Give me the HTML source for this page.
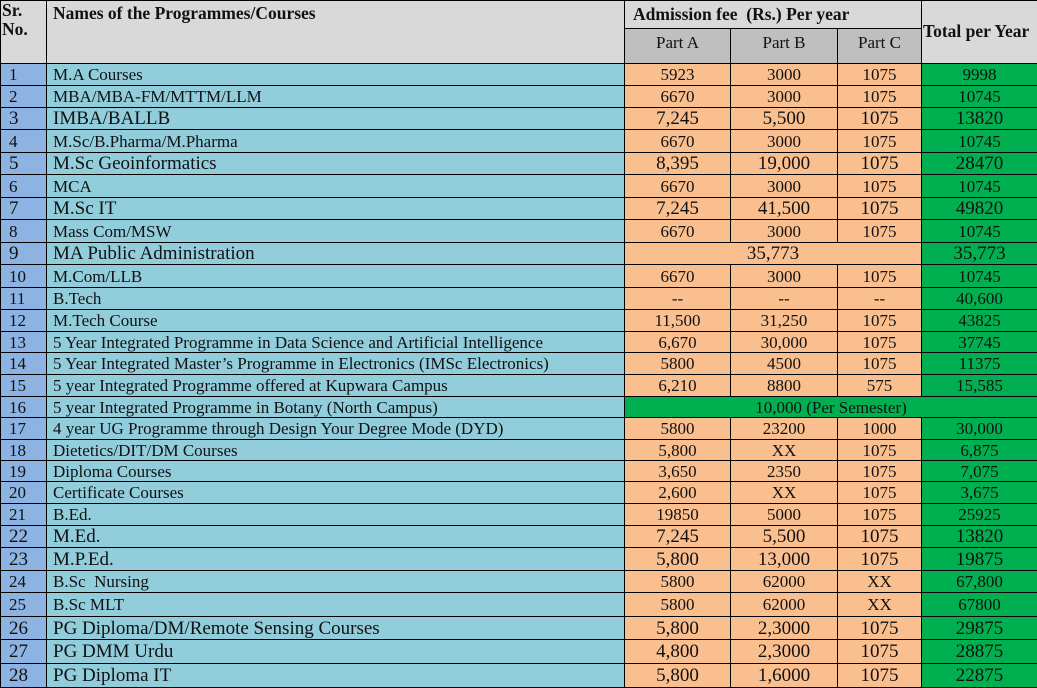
<!DOCTYPE html>
<html><head><meta charset="utf-8"><style>
html,body{margin:0;padding:0;background:#fff;}
body{width:1037px;height:686px;overflow:hidden;font-family:"Liberation Serif",serif;color:#111;}
table{border-collapse:collapse;table-layout:fixed;width:1037px;position:absolute;left:0;top:0;}
td{border:1px solid #000;padding:0;font-size:17px;line-height:1;white-space:nowrap;overflow:hidden;}
td.s{background:#8db3e2;padding-left:8px;}
td.n{background:#92cddc;padding-left:6px;}
td.p{background:#fabf8f;text-align:center;}
td.t{background:#00b050;text-align:center;}
tr.b td{font-size:19px;}
.h td{background:#d9d9d9;font-weight:bold;vertical-align:top;font-size:17.5px;}
.h td.ph{background:#bfbfbf;font-weight:normal;text-align:center;vertical-align:middle;font-size:17px;padding-bottom:8px;}
</style></head><body>
<table>
<colgroup><col style="width:46px"><col style="width:578px"><col style="width:106px"><col style="width:107px"><col style="width:84px"><col style="width:116px"></colgroup>
<tr class="h" style="height:28px"><td rowspan="2" style="padding-left:1px;line-height:19px">Sr.<br>No.</td><td rowspan="2" style="padding-left:6px;padding-top:4px">Names of the Programmes/Courses</td><td colspan="3" style="padding-left:8px;padding-top:5px">Admission fee&nbsp; (Rs.) Per year</td><td rowspan="2" style="vertical-align:middle;padding-left:1px">Total per Year</td></tr>
<tr class="h" style="height:35px"><td class="ph">Part A</td><td class="ph">Part B</td><td class="ph">Part C</td></tr>
<tr style="height:22px"><td class="s">1</td><td class="n">M.A Courses</td><td class="p">5923</td><td class="p">3000</td><td class="p">1075</td><td class="t">9998</td></tr>
<tr style="height:22px"><td class="s">2</td><td class="n">MBA/MBA-FM/MTTM/LLM</td><td class="p">6670</td><td class="p">3000</td><td class="p">1075</td><td class="t">10745</td></tr>
<tr class="b" style="height:22px"><td class="s">3</td><td class="n">IMBA/BALLB</td><td class="p">7,245</td><td class="p">5,500</td><td class="p">1075</td><td class="t">13820</td></tr>
<tr style="height:23px"><td class="s">4</td><td class="n">M.Sc/B.Pharma/M.Pharma</td><td class="p">6670</td><td class="p">3000</td><td class="p">1075</td><td class="t">10745</td></tr>
<tr class="b" style="height:22px"><td class="s">5</td><td class="n">M.Sc Geoinformatics</td><td class="p">8,395</td><td class="p">19,000</td><td class="p">1075</td><td class="t">28470</td></tr>
<tr style="height:23px"><td class="s">6</td><td class="n">MCA</td><td class="p">6670</td><td class="p">3000</td><td class="p">1075</td><td class="t">10745</td></tr>
<tr class="b" style="height:22px"><td class="s">7</td><td class="n">M.Sc IT</td><td class="p">7,245</td><td class="p">41,500</td><td class="p">1075</td><td class="t">49820</td></tr>
<tr style="height:23px"><td class="s">8</td><td class="n">Mass Com/MSW</td><td class="p">6670</td><td class="p">3000</td><td class="p">1075</td><td class="t">10745</td></tr>
<tr class="b" style="height:22px"><td class="s">9</td><td class="n">MA Public Administration</td><td class="p" colspan="3">35,773</td><td class="t">35,773</td></tr>
<tr style="height:23px"><td class="s">10</td><td class="n">M.Com/LLB</td><td class="p">6670</td><td class="p">3000</td><td class="p">1075</td><td class="t">10745</td></tr>
<tr style="height:22px"><td class="s">11</td><td class="n">B.Tech</td><td class="p">--</td><td class="p">--</td><td class="p">--</td><td class="t">40,600</td></tr>
<tr style="height:22px"><td class="s">12</td><td class="n">M.Tech Course</td><td class="p">11,500</td><td class="p">31,250</td><td class="p">1075</td><td class="t">43825</td></tr>
<tr style="height:21px"><td class="s">13</td><td class="n">5 Year Integrated Programme in Data Science and Artificial Intelligence</td><td class="p">6,670</td><td class="p">30,000</td><td class="p">1075</td><td class="t">37745</td></tr>
<tr style="height:22px"><td class="s">14</td><td class="n">5 Year Integrated Master’s Programme in Electronics (IMSc Electronics)</td><td class="p">5800</td><td class="p">4500</td><td class="p">1075</td><td class="t">11375</td></tr>
<tr style="height:22px"><td class="s">15</td><td class="n">5 year Integrated Programme offered at Kupwara Campus</td><td class="p">6,210</td><td class="p">8800</td><td class="p">575</td><td class="t">15,585</td></tr>
<tr style="height:21px"><td class="s">16</td><td class="n">5 year Integrated Programme in Botany (North Campus)</td><td class="t" colspan="4">10,000 (Per Semester)</td></tr>
<tr style="height:22px"><td class="s">17</td><td class="n">4 year UG Programme through Design Your Degree Mode (DYD)</td><td class="p">5800</td><td class="p">23200</td><td class="p">1000</td><td class="t">30,000</td></tr>
<tr style="height:21px"><td class="s">18</td><td class="n">Dietetics/DIT/DM Courses</td><td class="p">5,800</td><td class="p">XX</td><td class="p">1075</td><td class="t">6,875</td></tr>
<tr style="height:21px"><td class="s">19</td><td class="n">Diploma Courses</td><td class="p">3,650</td><td class="p">2350</td><td class="p">1075</td><td class="t">7,075</td></tr>
<tr style="height:22px"><td class="s">20</td><td class="n">Certificate Courses</td><td class="p">2,600</td><td class="p">XX</td><td class="p">1075</td><td class="t">3,675</td></tr>
<tr style="height:22px"><td class="s">21</td><td class="n">B.Ed.</td><td class="p">19850</td><td class="p">5000</td><td class="p">1075</td><td class="t">25925</td></tr>
<tr class="b" style="height:22px"><td class="s">22</td><td class="n">M.Ed.</td><td class="p">7,245</td><td class="p">5,500</td><td class="p">1075</td><td class="t">13820</td></tr>
<tr class="b" style="height:23px"><td class="s">23</td><td class="n">M.P.Ed.</td><td class="p">5,800</td><td class="p">13,000</td><td class="p">1075</td><td class="t">19875</td></tr>
<tr style="height:22px"><td class="s">24</td><td class="n">B.Sc&nbsp; Nursing</td><td class="p">5800</td><td class="p">62000</td><td class="p">XX</td><td class="t">67,800</td></tr>
<tr style="height:24px"><td class="s">25</td><td class="n">B.Sc MLT</td><td class="p">5800</td><td class="p">62000</td><td class="p">XX</td><td class="t">67800</td></tr>
<tr class="b" style="height:23px"><td class="s">26</td><td class="n">PG Diploma/DM/Remote Sensing Courses</td><td class="p">5,800</td><td class="p">2,3000</td><td class="p">1075</td><td class="t">29875</td></tr>
<tr class="b" style="height:24px"><td class="s">27</td><td class="n">PG DMM Urdu</td><td class="p">4,800</td><td class="p">2,3000</td><td class="p">1075</td><td class="t">28875</td></tr>
<tr class="b" style="height:24px"><td class="s">28</td><td class="n">PG Diploma IT</td><td class="p">5,800</td><td class="p">1,6000</td><td class="p">1075</td><td class="t">22875</td></tr>
</table>
</body></html>
